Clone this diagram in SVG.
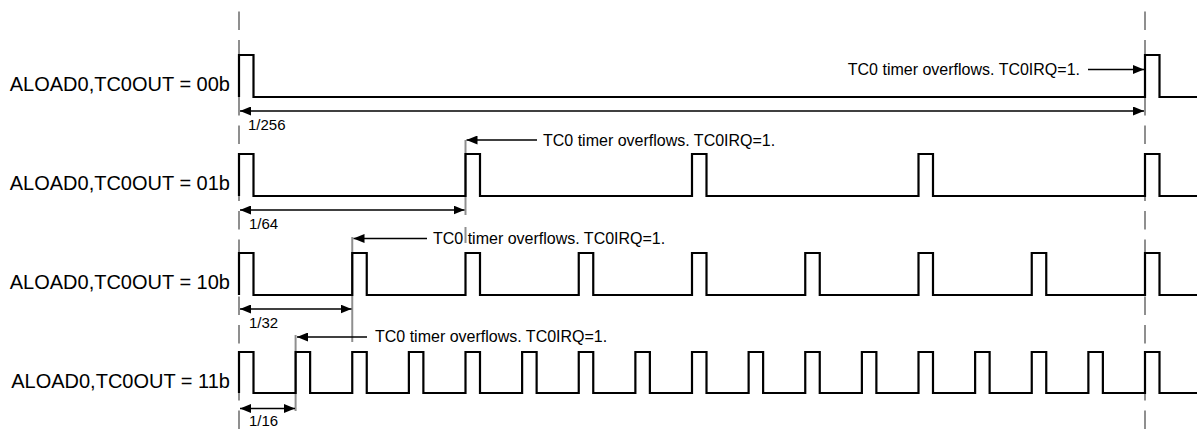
<svg xmlns="http://www.w3.org/2000/svg" width="1197" height="429" viewBox="0 0 1197 429">
<style>
text{font-family:"Liberation Sans",Arial,sans-serif;fill:#000}
.lbl{font-size:20px;text-anchor:end}
.ovf{font-size:16px}
.dim{font-size:15px}
.wave{fill:none;stroke:#000;stroke-width:2.2;stroke-linejoin:miter}
.guide{fill:none;stroke:#8f8f8f;stroke-width:2}
.dash{stroke-dasharray:18.5 10}
.arr{fill:none;stroke:#000;stroke-width:1.3}
</style>
<defs>
<marker id="ah" viewBox="0 0 11 9" refX="11" refY="4.5" markerWidth="11" markerHeight="9" markerUnits="userSpaceOnUse" orient="auto-start-reverse">
<path d="M0,0 L11,4.5 L0,9 z" fill="#000"/>
</marker>
</defs>
<g id="guides">
<line class="guide dash" x1="239" y1="11.5" x2="239" y2="429"/>
<line class="guide dash" x1="1145" y1="11.5" x2="1145" y2="429"/>
<line class="guide" x1="465.5" y1="140" x2="465.5" y2="215"/>
<line class="guide" x1="465.5" y1="227" x2="465.5" y2="243"/>
<line class="guide" x1="352.25" y1="237" x2="352.25" y2="342"/>
<line class="guide" x1="295.6" y1="335" x2="295.6" y2="411"/>
</g>
<g id="row-00b">
<text class="lbl" x="230" y="90.5">ALOAD0,TC0OUT = 00b</text>
<path class="wave" d="M239,97 V55 H253.5 V97 H1145 V55 H1159.5 V97 H1197"/>
</g>
<g id="row-01b">
<text class="lbl" x="230" y="189.5">ALOAD0,TC0OUT = 01b</text>
<path class="wave" d="M239,196 V154 H253.5 V196 H465.5 V154 H480 V196 H692 V154 H706.5 V196 H918.5 V154 H933 V196 H1145 V154 H1159.5 V196 H1197"/>
</g>
<g id="row-10b">
<text class="lbl" x="230" y="288.5">ALOAD0,TC0OUT = 10b</text>
<path class="wave" d="M239,295 V253 H253.5 V295 H352.25 V253 H366.75 V295 H465.5 V253 H480 V295 H578.75 V253 H593.25 V295 H692 V253 H706.5 V295 H805.25 V253 H819.75 V295 H918.5 V253 H933 V295 H1031.75 V253 H1046.25 V295 H1145 V253 H1159.5 V295 H1197"/>
</g>
<g id="row-11b">
<text class="lbl" x="230" y="387.5">ALOAD0,TC0OUT = 11b</text>
<path class="wave" d="M239,393 V352 H253.5 V393 H295.625 V352 H310.125 V393 H352.25 V352 H366.75 V393 H408.875 V352 H423.375 V393 H465.5 V352 H480 V393 H522.125 V352 H536.625 V393 H578.75 V352 H593.25 V393 H635.375 V352 H649.875 V393 H692 V352 H706.5 V393 H748.625 V352 H763.125 V393 H805.25 V352 H819.75 V393 H861.875 V352 H876.375 V393 H918.5 V352 H933 V393 H975.125 V352 H989.625 V393 H1031.75 V352 H1046.25 V393 H1088.375 V352 H1102.875 V393 H1145 V352 H1159.5 V393 H1197"/>
</g>
<g id="connectors">
<line class="arr" x1="240" y1="111" x2="1144" y2="111" marker-start="url(#ah)" marker-end="url(#ah)"/>
<line class="arr" x1="240" y1="210" x2="464.5" y2="210" marker-start="url(#ah)" marker-end="url(#ah)"/>
<line class="arr" x1="240" y1="309" x2="351.5" y2="309" marker-start="url(#ah)" marker-end="url(#ah)"/>
<line class="arr" x1="240" y1="408.5" x2="295" y2="408.5" marker-start="url(#ah)" marker-end="url(#ah)"/>
<line class="arr" x1="1088" y1="69.5" x2="1144" y2="69.5" marker-end="url(#ah)"/>
<line class="arr" x1="537" y1="140" x2="466.5" y2="140" marker-end="url(#ah)"/>
<line class="arr" x1="427" y1="238.5" x2="353.5" y2="238.5" marker-end="url(#ah)"/>
<line class="arr" x1="367" y1="337" x2="297" y2="337" marker-end="url(#ah)"/>
</g>
<g id="labels">
<text class="dim" x="248" y="130">1/256</text>
<text class="dim" x="249" y="229">1/64</text>
<text class="dim" x="249" y="328">1/32</text>
<text class="dim" x="249" y="426">1/16</text>
<text class="ovf" x="1080" y="75" text-anchor="end">TC0 timer overflows. TC0IRQ=1.</text>
<text class="ovf" x="543" y="145.5">TC0 timer overflows. TC0IRQ=1.</text>
<text class="ovf" x="433" y="244">TC0 timer overflows. TC0IRQ=1.</text>
<text class="ovf" x="375" y="342">TC0 timer overflows. TC0IRQ=1.</text>
</g>
</svg>
